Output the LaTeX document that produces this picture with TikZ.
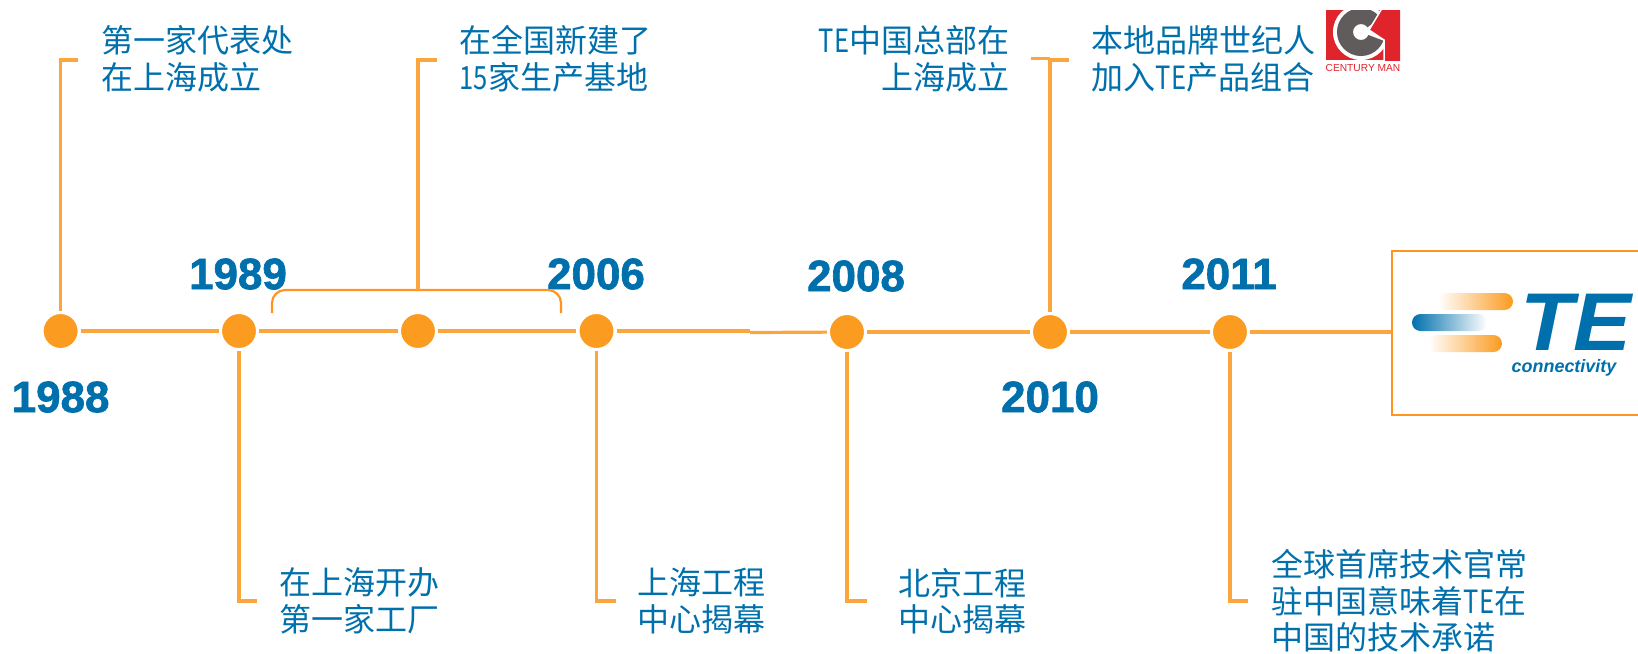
\documentclass[tikz,border=0pt]{standalone}
\usepackage{fontspec}
\setmainfont[BoldFeatures={FakeBold=1.5}]{Liberation Sans}
\newfontfamily\cnfont{Noto Sans CJK SC}
\newfontfamily\cnnarrow[FakeStretch=0.8]{Noto Sans CJK SC}
\newfontfamily\cmfont{Liberation Sans}
\newfontfamily\tefont[FakeStretch=1.06,BoldFeatures={FakeBold=0.6}]{Liberation Sans}
\usetikzlibrary{positioning}
\definecolor{lineorange}{RGB}{250, 166, 60}
\definecolor{dotorange}{RGB}{251, 155, 32}
\definecolor{boxorange}{RGB}{255, 148, 32}
\definecolor{teblue}{RGB}{0, 112, 173}
\definecolor{cmred}{RGB}{224, 36, 44}
\definecolor{cmgray}{RGB}{96, 92, 92}

\begin{document}
\begin{tikzpicture}[x=0.01cm,y=-0.01cm]%
        \tikzstyle{dot} = [circle, fill=dotorange, draw=white, line width=0.04cm, minimum size=0.38cm, inner sep=0pt, outer sep=0.01cm]
        \tikzstyle{stem} = [lineorange, line width=0.032cm]
        \tikzstyle{year} = [teblue, font=\fontsize{12.5}{14}\selectfont\bfseries, inner sep=0pt]
        \tikzstyle{note} = [teblue, font=\cnfont\fontsize{9.1}{10.4}\selectfont, inner sep=0pt]
        \useasboundingbox (0,0) rectangle (1638,653);

        % dots along the line
        \foreach \name/\x/\y in {1988/60.6/331, 1989/239/331, mid/418/331, 2006/596.5/331, 2008/847/332, 2010/1050/332, 2011/1230/332}{
          \node[dot] (dot\name) at (\x,\y) {};
        }
        \coordinate (jogA) at (750,331);
        \coordinate (jogB) at (750,332.5);
        \coordinate (boxT) at (1638,251);
        \coordinate (boxTL) at (1392,251);
        \coordinate (boxBL) at (1392,415);
        \coordinate (boxB) at (1638,415);
        \coordinate (boxW) at (1392,332);

        \draw[stem] (dot1988) -- (dot1989);
        \draw[stem] (dot1989) -- (dotmid);
        \draw[stem] (dotmid) -- (dot2006);
        \draw[stem] (dot2006) -- (jogA);
        \draw[stem] (jogB) -- (dot2008);
        \draw[stem] (dot2008) -- (dot2010);
        \draw[stem] (dot2010) -- (dot2011);
        \draw[stem] (dot2011) -- (boxW);
        \draw[boxorange, line width=0.027cm] (boxT) -- (boxTL) -- (boxBL) -- (boxB);

        % years
        \node[year] (year1988) at (60.6,397) {1988};
        \node[year] (year1989) at (238,274) {1989};
        \node[year] (year2006) at (596,274) {2006};
        \node[year] (year2008) at (856,276) {2008};
        \node[year] (year2010) at (1050,397) {2010};
        \node[year] (year2011) at (1229,274) {2011};

        % notes
        \node[note, anchor=west, align=left] (note1988) at (101,59) {第一家代表处\\在上海成立};
        \node[note, anchor=west, align=left] (note1989) at (279,601) {在上海开办\\第一家工厂};
        \node[note, anchor=west, align=left] (notemid) at (459,59) {在全国新建了\\{\cnnarrow 15}家生产基地};
        \node[note, anchor=west, align=left] (note2006) at (637,601) {上海工程\\中心揭幕};
        \node[note, anchor=west, align=left] (note2008) at (898,601) {北京工程\\中心揭幕};
        \node[note, anchor=east, align=right] (note2010a) at (1010,59) {{\cnnarrow TE}中国总部在\\上海成立};
        \node[note, anchor=west, align=left] (note2010b) at (1091,59) {本地品牌世纪人\\加入{\cnnarrow TE}产品组合};
        \node[note, anchor=west, align=left] (note2011) at (1271,601) {全球首席技术官常\\驻中国意味着{\cnnarrow TE}在\\中国的技术承诺};

        % stems up and down
        \coordinate (end1988) at (78,60);
        \coordinate (end1989) at (257,601);
        \coordinate (end2006) at (616,601);
        \coordinate (end2008) at (867,601);
        \coordinate (end2010a) at (1031,58.5);
        \coordinate (end2010b) at (1069,60);
        \coordinate (end2011) at (1248,601);
        \coordinate (topmid) at (418,60);
        \coordinate (endmid) at (437,60);
        \draw[stem] (dot1988) |- (end1988);
        \draw[stem] (dot1989) |- (end1989);
        \draw[stem] (dot2006) |- (end2006);
        \draw[stem] (dot2008) |- (end2008);
        \draw[stem] (dot2010) |- (end2010b);
        \draw[stem] (dot2010 |- end2010a) -- (end2010a);
        \draw[stem] (dot2011) |- (end2011);

        % bracket over the middle dot
        \coordinate (braceL) at (272,313);
        \coordinate (braceR) at (561,313);
        \coordinate (braceM) at (418,290);
        \draw[boxorange, line width=0.022cm, rounded corners=0.13cm] (braceL) -- (272,290) -- (561,290) -- (braceR);
        \draw[stem] (braceM) -- (topmid) -- (endmid);

        % century man mark
        \fill[cmred] (1326,10) rectangle (1400,60);
        \begin{scope}
          \clip (1326,10) rectangle (1400,60);
          \fill[white] (1361,32) circle (0.28cm);
          \fill[cmgray, even odd rule] (1361,32) circle (0.24cm) (1361,32) circle (0.08cm);
          \fill[white] (1361,32) -- (1395,8) -- (1395,45) -- cycle;
          \fill[cmred, draw=white, line width=0.015cm] (1384,5) -- (1405,5) -- (1405,65) -- (1384,65) -- (1384,40) -- (1369,30) -- cycle;
        \end{scope}
        \node[cmred, font=\cmfont\fontsize{2.9}{4}\selectfont, inner sep=0pt] (cmname) at (1363,68) {CENTURY MAN};

        % te logo
        \shade[left color=white, right color=dotorange, rounded corners=0.085cm] (1438,293) rectangle (1513,310);
        \shade[left color=teblue, right color=white, rounded corners=0.085cm] (1412,314) rectangle (1487,331);
        \shade[left color=white, right color=dotorange, rounded corners=0.085cm] (1428,335) rectangle (1502,352);
        \node[teblue, font=\tefont\fontsize{23.3}{24}\selectfont\bfseries\itshape, inner sep=0pt] (tename) at (1576,322) {TE};
        \node[teblue, font=\fontsize{5.1}{6}\selectfont\itshape\mdseries, inner sep=0pt] (teconn) at (1564,368) {\bfseries connectivity};
      \end{tikzpicture}
\end{document}
